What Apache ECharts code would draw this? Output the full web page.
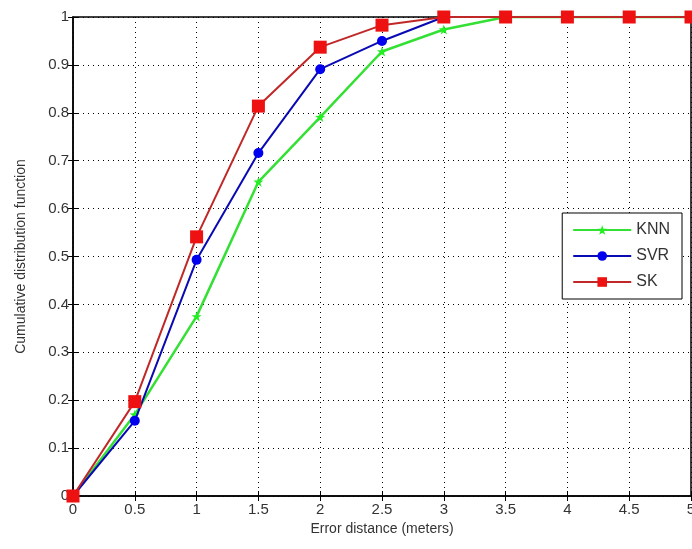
<!DOCTYPE html>
<html>
<head>
<meta charset="utf-8">
<script src="https://cdn.jsdelivr.net/npm/echarts@6/dist/echarts.min.js"></script>
<style>html,body{margin:0;padding:0;background:#fff}#main{width:692px;height:549px}</style>
</head>
<body>
<div id="main"></div>
<script>
const xValues = [0, 0.5, 1, 1.5, 2, 2.5, 3, 3.5, 4, 4.5, 5];
const knn = [0, 0.17, 0.375, 0.656, 0.791, 0.928, 0.974, 1, 1, 1, 1];
const svr = [0, 0.157, 0.493, 0.716, 0.891, 0.95, 1, 1, 1, 1, 1];
const sk = [0, 0.197, 0.541, 0.814, 0.937, 0.983, 1, 1, 1, 1, 1];

const chart = echarts.init(document.getElementById('main'));
const txt = {color: '#333', fontFamily: 'Liberation Sans', fontSize: 15};
function pairs(ys) { return xValues.map(function (x, i) { return [x, ys[i]]; }); }
function hiddenAxis(pos, max, interval) {
    return {type: 'value', position: pos, min: 0, max: max, interval: interval,
        axisLine: {show: false}, axisLabel: {show: false}, splitLine: {show: false},
        axisTick: {show: true, inside: true, length: 5, lineStyle: {color: '#000'}}};
}
chart.setOption({
    animation: false,
    grid: {left: 73, right: 1, top: 17, bottom: 53, show: true, borderColor: '#000', borderWidth: 1.5,
        outerBoundsMode: 'none', containLabel: false},
    legend: {
        right: 10, top: 213, orient: 'vertical', itemGap: 10, itemWidth: 58, itemHeight: 12,
        padding: [9, 12, 9, 10], borderColor: '#000', borderWidth: 1, backgroundColor: '#fff',
        textStyle: {color: '#333', fontFamily: 'Liberation Sans', fontSize: 16},
        data: ['KNN', 'SVR', 'SK']
    },
    xAxis: [{
        type: 'value', min: 0, max: 5, interval: 0.5,
        name: 'Error distance (meters)', nameLocation: 'middle', nameGap: 26,
        nameTextStyle: {color: '#333', fontFamily: 'Liberation Sans', fontSize: 14},
        axisLine: {lineStyle: {color: '#000', width: 1.5}},
        axisTick: {inside: true, length: 5, lineStyle: {color: '#000'}},
        axisLabel: Object.assign({margin: 6, showMaxLabel: true}, txt),
        splitLine: {show: true, lineStyle: {color: '#000', type: [1, 4], width: 1}}
    }, hiddenAxis('top', 5, 0.5)],
    yAxis: [{
        type: 'value', min: 0, max: 1, interval: 0.1,
        name: 'Cumulative distribution function', nameLocation: 'middle', nameGap: 45,
        nameTextStyle: {color: '#333', fontFamily: 'Liberation Sans', fontSize: 14},
        axisLine: {lineStyle: {color: '#000', width: 1.5}},
        axisTick: {inside: true, length: 5, lineStyle: {color: '#000'}},
        axisLabel: Object.assign({margin: 4, formatter: function (v) { return String(+v.toFixed(1)); }}, txt),
        splitLine: {show: true, lineStyle: {color: '#000', type: [1, 4], width: 1}}
    }, hiddenAxis('right', 1, 0.1)],
    series: [{
        name: 'KNN', type: 'line', data: pairs(knn), symbol: 'path://M0,-10 L2.4,-3.2 L9.5,-3.1 L3.8,1.2 L5.9,8.1 L0,4 L-5.9,8.1 L-3.8,1.2 L-9.5,-3.1 L-2.4,-3.2 Z', symbolSize: 10,
        lineStyle: {color: '#33e033', width: 2.5}, itemStyle: {color: '#22ee22'}, z: 2
    }, {
        name: 'SVR', type: 'line', data: pairs(svr), symbol: 'circle', symbolSize: 10,
        lineStyle: {color: '#0a0ab4', width: 2}, itemStyle: {color: '#0000ee'}, z: 3
    }, {
        name: 'SK', type: 'line', data: pairs(sk), symbol: 'rect', symbolSize: 13,
        lineStyle: {color: '#c02828', width: 2}, itemStyle: {color: '#ee1111'}, z: 4
    }]
});
</script>
</body>
</html>
